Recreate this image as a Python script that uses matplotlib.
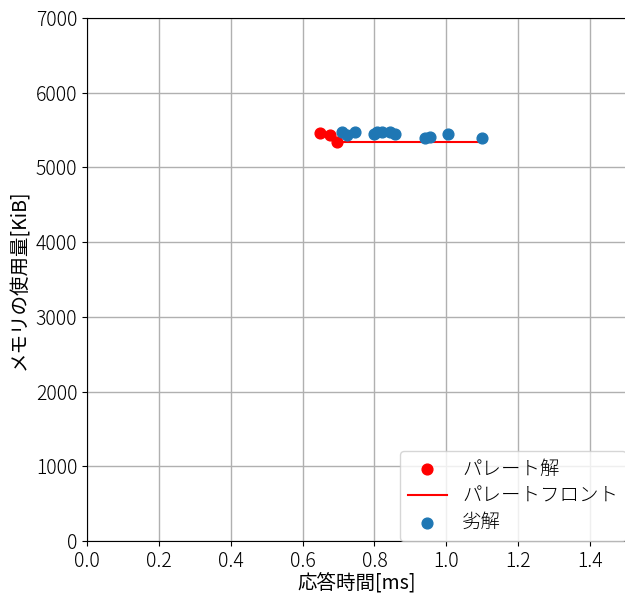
import matplotlib
matplotlib.use("Agg")
import matplotlib.pyplot as plt

plt.rcParams['font.family'] = ['Noto Sans CJK JP', 'DejaVu Sans']
plt.rcParams['font.weight'] = 'light'

pareto_x = [0.648, 0.676, 0.696]
pareto_y = [5461, 5434, 5341]

front_x = [0.696, 1.097]
front_y = [5341, 5341]

inferior_x = [0.710, 0.723, 0.746, 0.800, 0.806, 0.820, 0.843, 0.857, 0.941, 0.955, 1.006, 1.099]
inferior_y = [5479, 5430, 5475, 5445, 5479, 5470, 5475, 5444, 5395, 5408, 5444, 5398]

fig = plt.figure(figsize=(6.25, 5.95), dpi=100)
ax = fig.add_axes([87/625, 54/595, 539/625, 523/595])

ax.scatter(pareto_x, pareto_y, color='red', s=60, label='パレート解', zorder=3)
ax.plot(front_x, front_y, color='red', label='パレートフロント', zorder=2)
ax.scatter(inferior_x, inferior_y, color='#1f77b4', s=60, label='劣解', zorder=3)

ax.set_xlim(0, 1.5)
ax.set_ylim(0, 7000)
ax.set_xticks([0.0, 0.2, 0.4, 0.6, 0.8, 1.0, 1.2, 1.4])
ax.set_yticks(range(0, 7001, 1000))
ax.tick_params(labelsize=14)
ax.grid(True, color='#b0b0b0', linewidth=1)
ax.set_axisbelow(True)
ax.set_xlabel('応答時間[ms]', fontsize=14, labelpad=1)
ax.set_ylabel('メモリの使用量[KiB]', fontsize=14)
ax.legend(loc='lower right', fontsize=14, borderaxespad=0, labelspacing=0.3)

fig.savefig('out.png', dpi=100)
